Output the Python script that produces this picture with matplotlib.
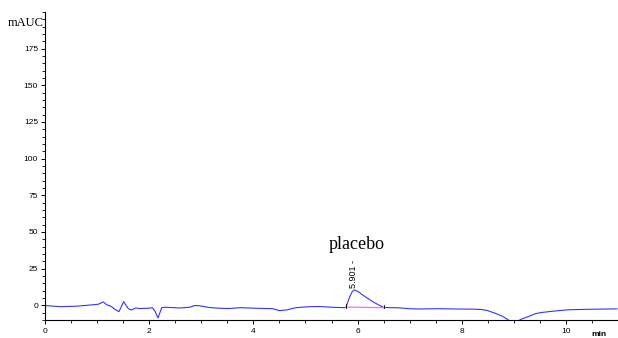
import matplotlib
matplotlib.use("Agg")
import matplotlib.pyplot as plt
from matplotlib.ticker import MultipleLocator

# ---- data ----
times = [0.0, 0.1, 0.29, 0.6, 0.86, 1.02, 1.12, 1.18, 1.28, 1.34, 1.42, 1.51, 1.6, 1.66,
         1.74, 1.82, 1.98, 2.06, 2.11, 2.17, 2.24, 2.3, 2.59, 2.78, 2.87, 2.97, 3.16, 3.35,
         3.54, 3.74, 4.05, 4.37, 4.5, 4.63, 4.82, 5.08, 5.27, 5.5, 5.75, 5.78, 5.84, 5.9,
         5.94, 6.02, 6.1, 6.2, 6.29, 6.42, 6.51, 6.8, 6.99, 7.18, 7.57, 7.89, 8.2, 8.37,
         8.49, 8.65, 8.78, 8.87, 8.95, 9.05, 9.13, 9.29, 9.42, 9.55, 9.75, 9.93, 10.06,
         10.44, 10.63, 10.98]
signal = [-0.2, -0.4, -0.9, -0.6, 0.2, 0.7, 2.3, 0.5, -0.9, -2.7, -4.3, 2.5, -2.3, -3.2,
          -1.8, -2.2, -2.0, -1.6, -3.9, -8.6, -1.6, -1.3, -1.8, -1.3, -0.1, -0.3, -1.5, -2.0,
          -2.2, -1.6, -2.0, -2.3, -3.6, -3.2, -1.6, -0.9, -0.8, -1.3, -1.6, -1.2, 5.0, 9.5,
          10.5, 9.2, 7.0, 4.6, 2.5, 0.0, -1.5, -1.7, -2.3, -2.5, -2.3, -2.5, -2.6, -2.8,
          -3.5, -5.5, -7.4, -9.4, -11.5, -11.5, -9.6, -7.5, -5.6, -4.8, -4.0, -3.4, -3.0,
          -2.7, -2.6, -2.4]
baseline_t = [5.78, 6.51]
baseline_v = [-1.2, -1.6]
peak_rt = 5.901
peak_height = 10.5
peak_label = "5.901 -"
title_text = "placebo"
y_label = "mAUC"
x_label = "min"
x_ticks = [0, 2, 4, 6, 8, 10]
y_ticks = [0, 25, 50, 75, 100, 125, 150, 175]

fig = plt.figure(figsize=(6.18, 3.38), dpi=100)
ax = fig.add_axes([45/618, 18/338, 1 - 45/618, (320-12)/338])

ax.plot(times, signal, color="#3333ff", lw=0.8)
ax.plot(baseline_t, baseline_v, color="#ff66ff", lw=0.9)
for t, v in zip(baseline_t, baseline_v):
    ax.plot([t, t], [v - 0.5, v + 2.0], color="black", lw=0.6)

ax.set_xlim(0, 11)
ax.set_ylim(-10, 200)
ax.spines["top"].set_visible(False)
ax.spines["right"].set_visible(False)
ax.spines["left"].set_linewidth(0.8)
ax.spines["bottom"].set_linewidth(0.8)

ax.set_xticks(x_ticks)
ax.set_yticks(y_ticks)
ax.xaxis.set_minor_locator(MultipleLocator(0.5))
ax.yaxis.set_minor_locator(MultipleLocator(5))
ax.tick_params(which="major", length=3, width=0.7, labelsize=6, pad=2, colors="black")
ax.tick_params(which="minor", length=2, width=0.6)
ax.tick_params(axis="x", labelsize=6, pad=2.5)
for lab in ax.get_xticklabels() + ax.get_yticklabels():
    lab.set_fontfamily("Liberation Sans")

ax.text(peak_rt + 0.03, peak_height + 1.2, peak_label, rotation=90, ha="center", va="bottom",
        fontsize=6.5, family="Liberation Sans")
ax.text(5.98, 41.5, title_text, ha="center", va="center", fontsize=13, family="Liberation Serif")

fig.text(44/618, 1 - 23/338, y_label, ha="right", va="center", fontsize=9, family="Liberation Serif")
fig.text(599/618, 1 - 335/338, x_label, ha="center", va="center", fontsize=6,
         family="Liberation Sans", fontweight="bold")

fig.savefig("out.png", dpi=100)
